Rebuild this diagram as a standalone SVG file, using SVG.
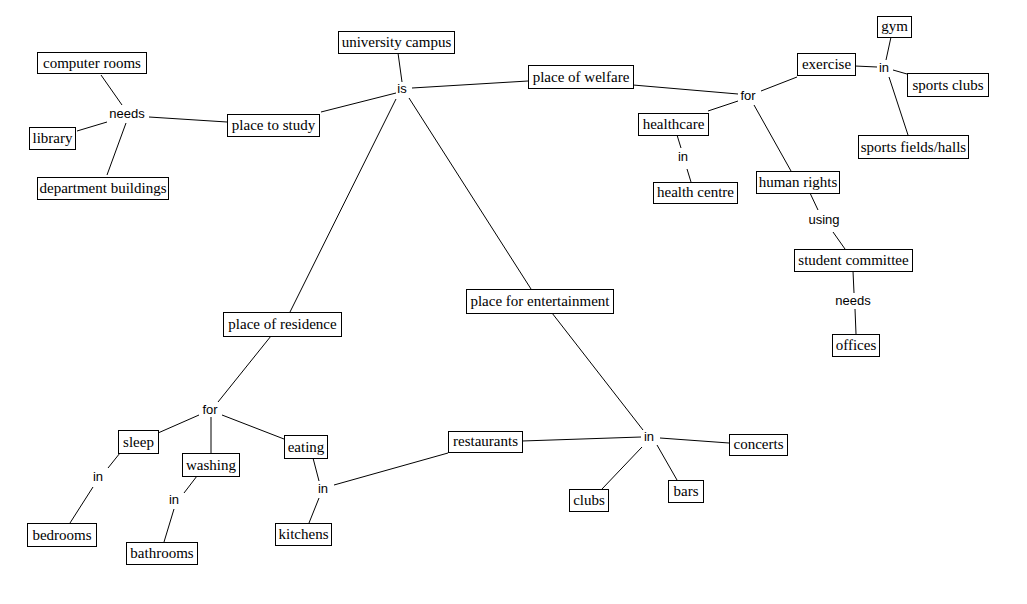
<svg xmlns="http://www.w3.org/2000/svg" width="1027" height="604" viewBox="0 0 1027 604">
<style>
.n rect{fill:#fff;stroke:#000;stroke-width:1}
.n text{font-family:'Liberation Serif',serif;font-size:15px;fill:#000;text-anchor:middle}
.l text{font-family:'Liberation Sans',sans-serif;font-size:13px;fill:#000;text-anchor:middle}
#links line{stroke:#000;stroke-width:1}
</style>
<rect width="1027" height="604" fill="#fff"/>
<g id="links">
<line x1="101" y1="75" x2="122" y2="105"/>
<line x1="107" y1="122" x2="77" y2="131"/>
<line x1="126" y1="123" x2="107" y2="175"/>
<line x1="149" y1="117" x2="227" y2="122"/>
<line x1="321" y1="112" x2="396" y2="93"/>
<line x1="398" y1="53" x2="402" y2="82"/>
<line x1="412" y1="88" x2="528" y2="81"/>
<line x1="396" y1="99" x2="290" y2="312"/>
<line x1="409" y1="98" x2="531" y2="289"/>
<line x1="633" y1="85" x2="738" y2="94"/>
<line x1="761" y1="91" x2="797" y2="77"/>
<line x1="738" y1="101" x2="708" y2="111"/>
<line x1="754" y1="105" x2="791" y2="171"/>
<line x1="677" y1="135" x2="681" y2="148"/>
<line x1="687" y1="169" x2="691" y2="182"/>
<line x1="855" y1="66" x2="877" y2="67"/>
<line x1="886" y1="60" x2="891" y2="37"/>
<line x1="893" y1="70" x2="907" y2="74"/>
<line x1="889" y1="77" x2="908" y2="135"/>
<line x1="810" y1="193" x2="818" y2="210"/>
<line x1="833" y1="232" x2="845" y2="249"/>
<line x1="853" y1="271" x2="854" y2="293"/>
<line x1="855" y1="309" x2="856" y2="334"/>
<line x1="271" y1="336" x2="218" y2="402"/>
<line x1="199" y1="415" x2="158" y2="433"/>
<line x1="211" y1="417" x2="211" y2="453"/>
<line x1="222" y1="415" x2="284" y2="439"/>
<line x1="120" y1="453" x2="108" y2="468"/>
<line x1="93" y1="487" x2="70" y2="523"/>
<line x1="197" y1="476" x2="184" y2="493"/>
<line x1="174" y1="509" x2="164" y2="542"/>
<line x1="313" y1="458" x2="319" y2="481"/>
<line x1="319" y1="498" x2="309" y2="523"/>
<line x1="334" y1="485" x2="448" y2="453"/>
<line x1="552" y1="313" x2="643" y2="430"/>
<line x1="522" y1="441" x2="641" y2="437"/>
<line x1="660" y1="438" x2="729" y2="443"/>
<line x1="642" y1="447" x2="602" y2="489"/>
<line x1="657" y1="445" x2="677" y2="480"/>
</g>
<g class="l">
<text id="lbl-needs1" x="127" y="118">needs</text>
<text id="lbl-is" x="402" y="93">is</text>
<text id="lbl-for1" x="748" y="100">for</text>
<text id="lbl-in-ex" x="884" y="72">in</text>
<text id="lbl-in-hc" x="683" y="161">in</text>
<text id="lbl-using" x="824" y="224">using</text>
<text id="lbl-needs2" x="853" y="305">needs</text>
<text id="lbl-for2" x="210" y="414">for</text>
<text id="lbl-in-sl" x="98" y="481">in</text>
<text id="lbl-in-wa" x="174" y="504">in</text>
<text id="lbl-in-ea" x="323" y="493">in</text>
<text id="lbl-in-en" x="649" y="441">in</text>
</g>
<g id="university-campus" class="n"><rect x="338.5" y="31.5" width="116" height="22"/><text x="396.5" y="47">university campus</text></g>
<g id="computer-rooms" class="n"><rect x="37.5" y="52.5" width="109" height="21"/><text x="92" y="67.5">computer rooms</text></g>
<g id="library" class="n"><rect x="29.5" y="127.5" width="46" height="22"/><text x="52.5" y="143">library</text></g>
<g id="department-buildings" class="n"><rect x="37.5" y="177.5" width="131" height="22"/><text x="103" y="193">department buildings</text></g>
<g id="place-to-study" class="n"><rect x="227.5" y="114.5" width="92" height="22"/><text x="273.5" y="130">place to study</text></g>
<g id="place-of-welfare" class="n"><rect x="528.5" y="65.5" width="105" height="23"/><text x="581" y="81.5">place of welfare</text></g>
<g id="exercise" class="n"><rect x="797.5" y="53.5" width="58" height="22"/><text x="826.5" y="69">exercise</text></g>
<g id="gym" class="n"><rect x="877.5" y="16.5" width="34" height="21"/><text x="894.5" y="30.5">gym</text></g>
<g id="sports-clubs" class="n"><rect x="907.5" y="73.5" width="81" height="23"/><text x="948" y="89.5">sports clubs</text></g>
<g id="sports-fields-halls" class="n"><rect x="858.5" y="135.5" width="110" height="23"/><text x="913.5" y="151.5">sports fields/halls</text></g>
<g id="healthcare" class="n"><rect x="638.5" y="113.5" width="70" height="22"/><text x="673.5" y="129">healthcare</text></g>
<g id="health-centre" class="n"><rect x="653.5" y="182.5" width="84" height="21"/><text x="695.5" y="197">health centre</text></g>
<g id="human-rights" class="n"><rect x="756.5" y="171.5" width="83" height="22"/><text x="798" y="187">human rights</text></g>
<g id="student-committee" class="n"><rect x="794.5" y="249.5" width="118" height="22"/><text x="853.5" y="265">student committee</text></g>
<g id="offices" class="n"><rect x="832.5" y="334.5" width="47" height="22"/><text x="856" y="350">offices</text></g>
<g id="place-of-residence" class="n"><rect x="223.5" y="312.5" width="118" height="24"/><text x="282.5" y="329">place of residence</text></g>
<g id="place-for-entertainment" class="n"><rect x="466.5" y="289.5" width="147" height="24"/><text x="540" y="306">place for entertainment</text></g>
<g id="sleep" class="n"><rect x="118.5" y="430.5" width="40" height="23"/><text x="138.5" y="446.5">sleep</text></g>
<g id="washing" class="n"><rect x="182.5" y="453.5" width="57" height="23"/><text x="211" y="469.5">washing</text></g>
<g id="eating" class="n"><rect x="284.5" y="435.5" width="43" height="23"/><text x="306" y="451.5">eating</text></g>
<g id="bedrooms" class="n"><rect x="27.5" y="523.5" width="69" height="23"/><text x="62" y="539.5">bedrooms</text></g>
<g id="bathrooms" class="n"><rect x="126.5" y="542.5" width="71" height="22"/><text x="162" y="558">bathrooms</text></g>
<g id="kitchens" class="n"><rect x="275.5" y="523.5" width="56" height="22"/><text x="303.5" y="539">kitchens</text></g>
<g id="restaurants" class="n"><rect x="448.5" y="431.5" width="74" height="21"/><text x="485.5" y="446">restaurants</text></g>
<g id="concerts" class="n"><rect x="729.5" y="434.5" width="58" height="21"/><text x="758.5" y="449">concerts</text></g>
<g id="clubs" class="n"><rect x="569.5" y="489.5" width="39" height="22"/><text x="589" y="505">clubs</text></g>
<g id="bars" class="n"><rect x="668.5" y="480.5" width="35" height="22"/><text x="686" y="496">bars</text></g>
</svg>
